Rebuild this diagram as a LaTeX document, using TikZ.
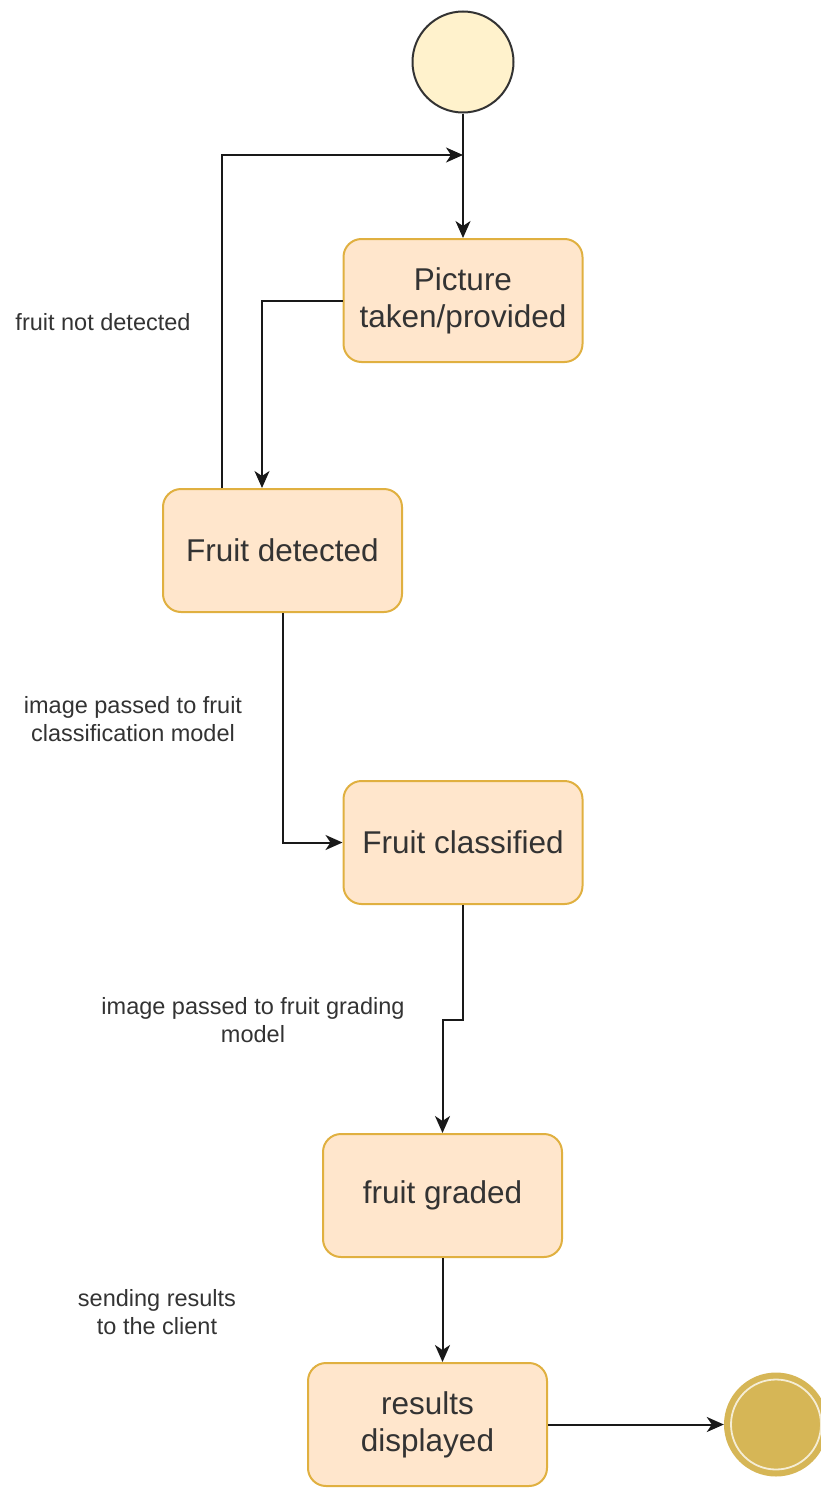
\documentclass[tikz,border=0pt]{standalone}
\usepackage{fontspec}
\setmainfont{Liberation Sans}
\usetikzlibrary{arrows.meta}
\definecolor{boxfill}{HTML}{FFE6CC}
\definecolor{boxline}{HTML}{E0B040}
\definecolor{startfill}{HTML}{FFF2CC}
\definecolor{endfill}{HTML}{D6B656}
\definecolor{ink}{HTML}{333333}
\begin{document}
\begin{tikzpicture}[x=1pt,y=-1pt,
  state/.style={draw=boxline, fill=boxfill, line width=2pt, rounded corners=18pt,
    minimum width=239pt, minimum height=123pt, align=center, inner sep=0pt,
    font=\fontsize{31.5}{37}\selectfont, text=ink},
  lbl/.style={align=center, font=\fontsize{23.5}{28}\selectfont, text=ink},
  flow/.style={draw=black!90, line width=2pt, -{Stealth[length=17pt,width=15pt,inset=5pt]}},
]
\useasboundingbox (0,0) rectangle (820,1488);

% initial and final pseudo-states
\node[circle, draw=black!80, fill=startfill, line width=2pt, minimum size=101pt, inner sep=0pt] (start) at (463,62) {};
\node[circle, fill=endfill, minimum size=104pt, inner sep=0pt] (finish) at (776,1424.5) {};
\draw[white!75!endfill, line width=1.8pt] (finish.center) circle (45pt);

% states
\node[state] (pic) at (463,300.5) {Picture\\taken/provided};
\node[state] (det) at (282.5,550.5) {Fruit detected};
\node[state] (cls) at (463,842.5) {Fruit classified};
\node[state] (grd) at (442.5,1195.5) {fruit graded};
\node[state] (res) at (427.5,1424.5) {results\\displayed};

% bend points
\coordinate (join) at (463,155);
\coordinate (bend) at (463,1020);

% transitions
\draw[flow] (start) -- (pic);
\draw[flow] ([xshift=-60.5pt]det.north) |- (join);
\draw[flow] (pic.west) -| ([xshift=-20.5pt]det.north);
\draw[flow] (det.south) |- (cls.west);
\draw[flow] (cls.south) -- (bend) -| (grd.north);
\draw[flow] (grd.south) -- (grd.south |- res.north);
\draw[flow] (res.east) -- (finish.west);

% transition labels
\node[lbl] (l1) at (103,322) {fruit not detected};
\node[lbl] (l2) at (133,719) {image passed to fruit\\classification model};
\node[lbl] (l3) at (253,1020) {image passed to fruit grading\\model};
\node[lbl] (l4) at (157,1312) {sending results\\to the client};
\end{tikzpicture}
\end{document}
